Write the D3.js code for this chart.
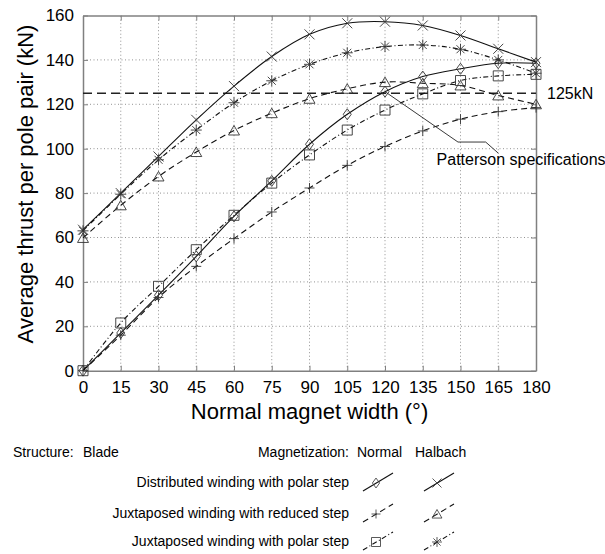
<!DOCTYPE html>
<html>
<head>
<meta charset="utf-8">
<script src="https://cdn.jsdelivr.net/npm/d3@7"></script>
<style>
  body { margin: 0; background: #fff; }
  svg { font-family: "Liberation Sans", Arial, sans-serif; }
</style>
</head>
<body>
<svg id="chart" width="605" height="554"></svg>
<script>
// Magnet width (degrees)
const widths = [0, 15, 30, 45, 60, 75, 90, 105, 120, 135, 150, 165, 180];

// Average thrust per pole pair (kN)
const distNormal     = [0, 17, 34, 51.5, 69.5, 85.5, 102, 115.5, 125.7, 132.5, 136, 138.5, 138.5];
const distHalbach    = [63.5, 80, 96.5, 113, 128.2, 141.5, 151.5, 156.5, 157.2, 155.5, 151, 145, 139];
const reducedNormal  = [0, 16, 33, 47, 59.5, 71.5, 82.3, 92.5, 101, 108, 113.3, 116.7, 118.5];
const reducedHalbach = [59.8, 74.5, 87.5, 98.5, 108.2, 116, 122.5, 127, 130, 129.5, 128.5, 124, 120];
const polarNormal    = [0, 21.5, 38, 54.5, 70, 84.5, 97.2, 108.4, 117.4, 124.7, 130.7, 132.8, 133.5];
const polarHalbach   = [63, 79.5, 95, 108.4, 120.7, 130.6, 138, 143.2, 146, 146.7, 144.8, 140, 134];

const xTicks = [0, 15, 30, 45, 60, 75, 90, 105, 120, 135, 150, 165, 180];
const yTicks = [0, 20, 40, 60, 80, 100, 120, 140, 160];

const specLevel = 125;
// annotation leader for "Patterson specifications" (data units)
const leaderX = [120, 149, 160, 165];
const leaderY = [125.7, 103, 103, 98];

const rowLabels = [
    'Distributed winding with polar step',
    'Juxtaposed winding with reduced step',
    'Juxtaposed winding with polar step'
];

const series = [
    { values: distNormal,     marker: 'diamond',  dash: null,            row: 0, col: 0 },
    { values: distHalbach,    marker: 'x',        dash: null,            row: 0, col: 1 },
    { values: reducedNormal,  marker: 'plus',     dash: '6,4',           row: 1, col: 0 },
    { values: reducedHalbach, marker: 'triangle', dash: '6,4',           row: 1, col: 1 },
    { values: polarNormal,    marker: 'square',   dash: '5,2.5,1,2.5',   row: 2, col: 0 },
    { values: polarHalbach,   marker: 'asterisk', dash: '5,2.5,1,2.5',   row: 2, col: 1 }
];

const svg = d3.select('#chart');
const margin = { left: 83, right: 69, top: 15.5, bottom: 183.3 };
const W = 605, H = 554;

const x = d3.scaleLinear().domain([0, 180]).range([margin.left, W - margin.right]);
const y = d3.scaleLinear().domain([0, 160]).range([H - margin.bottom, margin.top]);

// marker path generator
function markerPath(type) {
    switch (type) {
        case 'diamond':  return 'M0,-5.5L4,0L0,5.5L-4,0Z';
        case 'x':        return 'M-5,-5L5,5M-5,5L5,-5';
        case 'plus':     return 'M-5,0L5,0M0,-5L0,5';
        case 'triangle': return 'M0,-5L5.5,4.5L-5.5,4.5Z';
        case 'square':   return 'M-5,-5L5,-5L5,5L-5,5Z';
        case 'asterisk': return 'M-5.5,0L5.5,0M0,-5.5L0,5.5M-4,-4L4,4M-4,4L4,-4';
    }
}

// grid
const grid = svg.append('g').attr('class', 'grid')
    .attr('stroke', '#777').attr('stroke-width', 0.8).attr('stroke-dasharray', '1,2.5');
grid.selectAll('.gx').data(xTicks.slice(1, -1)).enter().append('line')
    .attr('x1', d => x(d)).attr('x2', d => x(d))
    .attr('y1', y(0)).attr('y2', y(160));
grid.selectAll('.gy').data(yTicks.slice(1, -1)).enter().append('line')
    .attr('y1', d => y(d)).attr('y2', d => y(d))
    .attr('x1', x(0)).attr('x2', x(180));

// axes (ticks inward)
const axisColor = '#808080';
const axBottom = svg.append('g').attr('transform', `translate(0,${y(0)})`)
    .call(d3.axisBottom(x).tickValues(xTicks).tickSizeInner(-5).tickSizeOuter(0).tickPadding(10));
const axLeft = svg.append('g').attr('transform', `translate(${x(0)},0)`)
    .call(d3.axisLeft(y).tickValues(yTicks).tickSizeInner(-5).tickSizeOuter(0).tickPadding(9));
const axTop = svg.append('g').attr('transform', `translate(0,${y(160)})`)
    .call(d3.axisTop(x).tickValues(xTicks).tickSizeInner(-5).tickSizeOuter(0).tickFormat(''));
const axRight = svg.append('g').attr('transform', `translate(${x(180)},0)`)
    .call(d3.axisRight(y).tickValues(yTicks).tickSizeInner(-5).tickSizeOuter(0).tickFormat(''));

[axBottom, axLeft, axTop, axRight].forEach(g => {
    g.select('.domain').attr('stroke', axisColor).attr('stroke-width', 1.5);
    g.selectAll('.tick line').attr('stroke', axisColor).attr('stroke-width', 1);
    g.selectAll('.tick text').attr('fill', '#000').attr('font-size', 17)
        .attr('font-family', '"Liberation Sans", Arial, sans-serif');
});

// 125 kN specification line
svg.append('line')
    .attr('x1', x(0)).attr('x2', x(180))
    .attr('y1', y(specLevel)).attr('y2', y(specLevel))
    .attr('stroke', '#222').attr('stroke-width', 1.6).attr('stroke-dasharray', '9,5');
svg.append('text')
    .attr('x', x(180) + 11).attr('y', y(specLevel) + 6)
    .attr('font-size', 16).text('125kN');

// curves
const line = d3.line()
    .x((d, i) => x(widths[i]))
    .y(d => y(d))
    .curve(d3.curveCatmullRom.alpha(0.5));

series.forEach(s => {
    svg.append('path')
        .datum(s.values)
        .attr('d', line)
        .attr('fill', 'none')
        .attr('stroke', '#111')
        .attr('stroke-width', 1.1)
        .attr('stroke-dasharray', s.dash);
});

series.forEach(s => {
    svg.append('g').selectAll('path')
        .data(s.values)
        .enter().append('path')
        .attr('transform', (d, i) => `translate(${x(widths[i])},${y(d)})`)
        .attr('d', markerPath(s.marker))
        .attr('fill', 'none')
        .attr('stroke', '#333')
        .attr('stroke-width', 0.9);
});

// Patterson annotation
const leader = d3.line().x(d => x(d[0])).y(d => y(d[1]));
svg.append('path')
    .datum(leaderX.map((v, i) => [v, leaderY[i]]))
    .attr('d', leader)
    .attr('fill', 'none').attr('stroke', '#222').attr('stroke-width', 0.9);
svg.append('text')
    .attr('x', x(140.5)).attr('y', y(92.6))
    .attr('font-size', 16).text('Patterson specifications');

// axis titles
svg.append('text')
    .attr('x', (x(0) + x(180)) / 2).attr('y', 419)
    .attr('text-anchor', 'middle').attr('font-size', 22)
    .text('Normal magnet width (°)');
svg.append('text')
    .attr('transform', 'translate(33,184) rotate(-90)')
    .attr('text-anchor', 'middle').attr('font-size', 22)
    .text('Average thrust per pole pair (kN)');

// legend
const leg = svg.append('g').attr('font-size', 14);
leg.append('text').attr('x', 13).attr('y', 457).text('Structure:');
leg.append('text').attr('x', 83).attr('y', 457).text('Blade');
leg.append('text').attr('x', 349).attr('y', 457).attr('text-anchor', 'end').text('Magnetization:');
leg.append('text').attr('x', 357).attr('y', 457).text('Normal');
leg.append('text').attr('x', 415).attr('y', 457).text('Halbach');

const rowY = [482, 513, 541];
const colX = [378, 439];
rowLabels.forEach((t, i) => {
    leg.append('text').attr('x', 349).attr('y', rowY[i] + 5)
        .attr('text-anchor', 'end').text(t);
});
series.forEach(s => {
    const cx = colX[s.col], cy = rowY[s.row];
    leg.append('line')
        .attr('x1', cx - 15).attr('y1', cy + 9)
        .attr('x2', cx + 15).attr('y2', cy - 9)
        .attr('stroke', '#111').attr('stroke-width', 1.1)
        .attr('stroke-dasharray', s.dash);
    leg.append('path')
        .attr('transform', `translate(${cx - 2},${cy + 1}) scale(0.9)`)
        .attr('d', markerPath(s.marker))
        .attr('fill', 'none').attr('stroke', '#333').attr('stroke-width', 0.9);
});
</script>
</body>
</html>
